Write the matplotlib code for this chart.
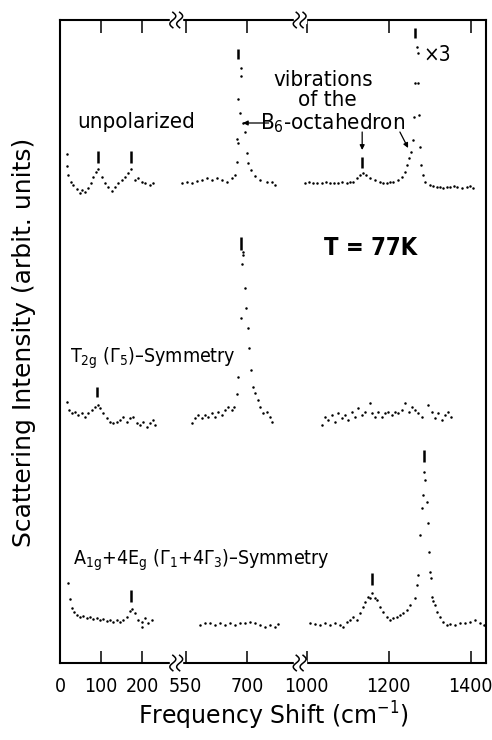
import numpy as np
import matplotlib
matplotlib.use("Agg")
import matplotlib.pyplot as plt
from matplotlib import font_manager

# look for a condensed sans; fall back to Roboto
cond = None
for f in font_manager.fontManager.ttflist:
    nm = f.name + " " + str(f.stretch)
    if f.style == "normal" and f.weight in (400, "normal", "regular") and (
            "Narrow" in nm or "Condensed" in nm or "condensed" in nm):
        cond = f
        break
if cond is not None:
    fam, stretch = cond.name, cond.stretch
else:
    fam, stretch = "Roboto", "normal"

plt.rcParams["font.family"] = [fam, "DejaVu Sans"]
plt.rcParams["font.stretch"] = stretch
plt.rcParams["mathtext.fontset"] = "custom"
plt.rcParams["mathtext.rm"] = fam
plt.rcParams["mathtext.it"] = fam
plt.rcParams["mathtext.default"] = "rm"

# ---- data (frequency in cm^-1, intensity in arbit. units) ----
# unpolarized (top)
top_f = [16, 16, 20, 26, 32, 41, 49, 54, 61, 68, 76, 80, 87, 92, 102, 110, 117, 126,
         134, 141, 150, 159, 166, 173, 183, 190, 199, 207, 220, 227,
         540, 552, 564, 576, 589, 601, 613, 625, 637, 650, 662, 670, 674, 675, 677,
         684, 685, 682, 690, 694, 677, 700, 702, 710, 719, 731, 747, 759, 767,
         996, 1006, 1016, 1026, 1036, 1046, 1057, 1067, 1077, 1087, 1097, 1105, 1113,
         1122, 1130, 1136, 1144, 1154, 1166, 1179, 1187, 1195, 1203, 1211, 1223, 1233,
         1240, 1245, 1250, 1253, 1258, 1262, 1265, 1268, 1271, 1272, 1274, 1276, 1279,
         1283, 1288, 1300, 1308, 1317, 1325, 1333, 1341, 1349, 1358, 1366, 1378, 1390,
         1398, 1406]
top_i = [509, 497, 488, 481, 478, 474, 470, 473, 471, 475, 480, 486, 491, 494, 486, 480,
         476, 472, 476, 480, 483, 486, 490, 494, 483, 485, 481, 480, 478, 480,
         480, 481, 480, 482, 483, 485, 483, 485, 483, 481, 485, 488, 501, 524, 564,
         595, 587, 550, 540, 531, 520, 510, 500, 493, 487, 483, 481, 481, 478,
         480, 481, 480, 480, 480, 481, 480, 480, 480, 481, 480, 481, 481,
         485, 488, 490, 488, 485, 483, 481, 480, 480, 481, 481, 483, 486,
         491, 498, 505, 511, 523, 546, 580, 616, 610, 580, 548, 516, 498,
         488, 481, 478, 477, 476, 476, 475, 476, 476, 477, 476, 475, 476,
         477, 475]

# T2g (middle)
mid_f = [16, 22, 29, 37, 45, 53, 61, 69, 77, 85, 92, 98, 106, 114, 122, 130, 138, 146,
         154, 163, 171, 179, 187, 195, 203, 211, 220, 228, 232,
         564, 572, 580, 589, 597, 605, 613, 621, 629, 637, 645, 653, 662, 668, 674,
         678, 684, 688, 690, 689, 694, 697, 701, 705, 709, 714, 719, 726, 731, 739,
         747, 755, 761,
         1036, 1044, 1052, 1061, 1069, 1077, 1085, 1093, 1101, 1110, 1118, 1126, 1134,
         1142, 1154, 1158, 1166, 1174, 1183, 1191, 1199, 1207, 1215, 1223, 1231, 1240,
         1248, 1256, 1264, 1272, 1280, 1296, 1305, 1313, 1321, 1329, 1337, 1345, 1351]
mid_i = [261, 253, 250, 251, 248, 250, 246, 250, 253, 256, 258, 255, 250, 245, 241, 240,
         241, 243, 246, 241, 245, 246, 240, 238, 241, 236, 240, 243, 238,
         240, 245, 248, 245, 248, 246, 250, 246, 251, 248, 253, 256, 253, 256, 269,
         286, 345, 399, 408, 411, 375, 355, 335, 315, 293, 276, 270, 263, 256, 250,
         251, 246, 241,
         238, 246, 243, 248, 241, 250, 245, 248, 243, 251, 246, 255, 248,
         251, 260, 250, 246, 251, 246, 250, 251, 248, 251, 250, 253, 260,
         251, 256, 253, 250, 246, 258, 251, 245, 250, 243, 248, 251, 246]

# A1g + 4Eg (bottom)
bot_f = [20, 24, 29, 35, 41, 49, 57, 65, 73, 81, 90, 98, 106, 114, 122, 130, 138, 146,
         154, 163, 171, 176, 183, 191, 199, 199, 207, 215, 224,
         584, 597, 609, 621, 633, 645, 658, 670, 682, 694, 706, 719, 731, 743, 755,
         767, 775,
         1008, 1020, 1032, 1044, 1057, 1069, 1081, 1089, 1097, 1105, 1113, 1122, 1130,
         1138, 1142, 1148, 1154, 1158, 1166, 1172, 1179, 1187, 1195, 1203, 1211, 1219,
         1227, 1235, 1244, 1252, 1264, 1268, 1272, 1276, 1280, 1284, 1286, 1288, 1292,
         1296, 1298, 1300, 1302, 1306, 1307, 1313, 1318, 1325, 1333, 1341, 1349, 1361,
         1374, 1386, 1398, 1410, 1422, 1432]
bot_i = [80, 64, 55, 51, 48, 46, 47, 45, 46, 44, 45, 43, 44, 42, 43, 41, 43, 41,
         43, 46, 52, 54, 50, 43, 41, 36, 45, 40, 43,
         38, 40, 40, 38, 40, 38, 40, 38, 40, 40, 41, 40, 38, 36, 38,
         36, 39,
         40, 39, 38, 40, 38, 40, 38, 36, 41, 43, 46, 43, 50,
         56, 61, 66, 65, 70, 65, 63, 56, 51, 46, 43, 45, 46,
         48, 50, 53, 58, 65, 78, 88, 128, 155, 168, 191, 183, 161,
         140, 111, 91, 85, 66, 62, 58, 51, 46, 41, 38, 39, 38,
         40, 40, 41, 43, 40, 38]

# peak bars: (frequency, lower, upper)
peak_marks = [(93, 500, 512), (173, 500, 512), (677, 604, 614), (1135, 495, 506),
              (1264, 625, 635), (91, 266, 276), (684, 413, 426),
              (173, 61, 73), (1158, 78, 90), (1286, 201, 213)]

xticks = [0, 100, 200, 550, 700, 1000, 1200, 1400]

# broken frequency axis: 0-270, 540-820, 990-
xb = [-1000, 270, 540, 820, 990, 3000]
tb = [-1000, 270, 297, 577, 592, 2602]


def fwd(x):
    return np.interp(x, xb, tb)


def inv(t):
    return np.interp(t, tb, xb)


fig = plt.figure(figsize=(4.92, 7.40), dpi=100)
ax = fig.add_axes([60 / 492, 77 / 740, 426 / 492, 643 / 740])
ax.set_xscale("function", functions=(fwd, inv))
ax.set_xlim(0, 1437)
ax.set_ylim(0, 643)

for f, i in [(top_f, top_i), (mid_f, mid_i), (bot_f, bot_i)]:
    ax.plot(f, i, ls="none", marker="o", ms=1.8, color="k", mec="none")

for f, lo, hi in peak_marks:
    ax.plot([f, f], [lo, hi], color="k", lw=1.8, solid_capstyle="butt")

big = 1.0 if stretch != "normal" else 0.88

ax.set_xticks(xticks)
ax.set_xticklabels([str(v) for v in xticks])
ax.set_yticks([])
ax.tick_params(axis="x", direction="in", length=9, width=1.1, top=True,
               labelsize=14 * big, pad=10)
for s in ax.spines.values():
    s.set_linewidth(1.5)

# break marks on top and bottom spines
for bx in (405, 905):
    xf = ax.transAxes.inverted().transform(ax.transData.transform((bx, 0)))[0]
    for yf in (0.0, 1.0):
        ax.add_patch(plt.Rectangle((xf - 0.014, yf - 0.004), 0.028, 0.008,
                                   transform=ax.transAxes, color="white",
                                   clip_on=False, zorder=5))
        s = np.linspace(-1, 1, 30)
        for dx in (-0.008, 0.008):
            ax.plot(xf + dx + 0.007 * np.sin(np.pi * s), yf + 0.012 * s,
                    transform=ax.transAxes, color="k", lw=1.1,
                    clip_on=False, zorder=6)

# annotations
fs = 16 * big
ax.text(185, 541, "unpolarized", ha="center", va="center", fontsize=fs)
ax.text(1040, 583, "vibrations", ha="center", va="center", fontsize=fs)
ax.text(1049, 563, "of the", ha="center", va="center", fontsize=fs)
ax.text(1064, 540, "B$_6$-octahedron", ha="center", va="center", fontsize=fs)
ax.annotate("", xy=(689, 540), xytext=(752, 540),
            arrowprops=dict(arrowstyle="-|>", color="k", lw=0.9,
                            mutation_scale=7, shrinkA=0, shrinkB=0))
ax.annotate("", xy=(1135, 513), xytext=(1135, 531),
            arrowprops=dict(arrowstyle="-|>", color="k", lw=0.9,
                            mutation_scale=7, shrinkA=0, shrinkB=0))
ax.annotate("", xy=(1247, 515), xytext=(1227, 531),
            arrowprops=dict(arrowstyle="-|>", color="k", lw=0.9,
                            mutation_scale=7, shrinkA=0, shrinkB=0))
ax.text(1318, 608, "×3", ha="center", va="center", fontsize=15 * big)
ax.text(1155, 415, "T = 77K", ha="center", va="center", fontsize=17 * big,
        fontweight="bold")
ax.text(24, 300, "T$_{2g}$ (Γ$_5$)–Symmetry", ha="left", va="baseline",
        fontsize=14 * big)
ax.text(32, 98, "A$_{1g}$+4E$_g$ (Γ$_1$+4Γ$_3$)–Symmetry", ha="left",
        va="baseline", fontsize=14 * big)

ax.set_xlabel("Frequency Shift (cm$^{-1}$)", fontsize=17,
              family="DejaVu Sans", stretch="normal", labelpad=3)
fig.text(24 / 492, 1 - 342 / 740, "Scattering Intensity (arbit. units)",
         rotation=90, ha="center", va="center", fontsize=18,
         family="DejaVu Sans", stretch="normal")

fig.savefig("out.png", dpi=100)
